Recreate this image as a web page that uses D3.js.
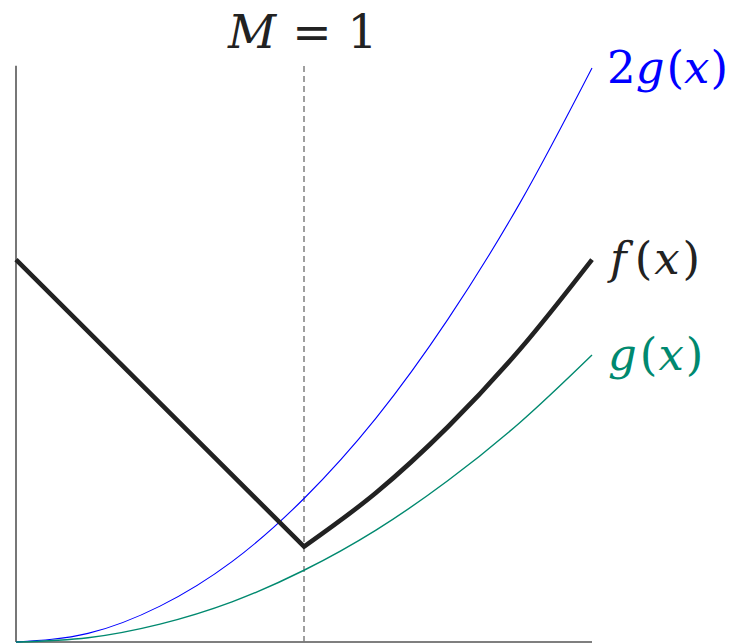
<!DOCTYPE html>
<html>
<head>
<meta charset="utf-8">
<script src="https://cdn.jsdelivr.net/npm/d3@7"></script>
<style>
  body { margin: 0; background: #fff; }
</style>
</head>
<body>
<svg id="graph" width="729" height="643"></svg>
<script>
// values, x from 0 to 2
let xs      = [0, 0.25, 0.5, 0.75, 1, 1.25, 1.5, 1.75, 2];
let gVals   = [0, 0.06, 0.25, 0.56, 1, 1.56, 2.25, 3.06, 4];
let g2Vals  = [0, 0.12, 0.5, 1.12, 2, 3.12, 4.5, 6.12, 8];
let fLeftX  = [0, 1];
let fLeftV  = [5.33, 1.33];
let fRightX = [1, 1.25, 1.5, 1.75, 2];
let fRightV = [1.33, 2.08, 3.0, 4.08, 5.33];
let M = 1;

//===== SVG SETUP =====
let svg = d3.select("#graph"),
    x = d3.scaleLinear().domain([0, 2]).range([16, 592]),
    y = d3.scaleLinear().domain([0, 8]).range([642, 68]);

let blue = "#0000ff", teal = "#00896f", dark = "#222222";
let mathFont = "'DejaVu Serif', 'Liberation Serif', serif";

// axes (plain lines, no ticks)
svg.append("line")
  .attr("x1", x(0)).attr("x2", x(0))
  .attr("y1", y(0)).attr("y2", y(8.03))
  .attr("stroke", "#555").attr("stroke-width", 1.6);
svg.append("line")
  .attr("x1", x(0)).attr("x2", x(2))
  .attr("y1", y(0)).attr("y2", y(0))
  .attr("stroke", "#555").attr("stroke-width", 1.6);

// dashed marker at M
svg.append("line")
  .attr("x1", x(M)).attr("x2", x(M))
  .attr("y1", y(0)).attr("y2", y(8.03))
  .attr("stroke", "#777").attr("stroke-width", 1.4)
  .attr("stroke-dasharray", "6,4");

//===== CURVES =====
let curve = d3.line()
  .curve(d3.curveMonotoneX)
  .x(function(d) { return x(d[0]); })
  .y(function(d) { return y(d[1]); });

let gPts = xs.map(function(v, i) { return [v, gVals[i]]; });
let g2Pts = xs.map(function(v, i) { return [v, g2Vals[i]]; });
let fRight = fRightX.map(function(v, i) { return [v, fRightV[i]]; });

svg.append("path")
  .attr("d", curve(g2Pts))
  .attr("fill", "none").attr("stroke", blue).attr("stroke-width", 1.1);

svg.append("path")
  .attr("d", curve(gPts))
  .attr("fill", "none").attr("stroke", teal).attr("stroke-width", 1.4);

// f: straight left piece joined to curved right piece
let fPath = "M" + x(fLeftX[0]) + "," + y(fLeftV[0]) + "L" + curve(fRight).slice(1);
svg.append("path")
  .attr("d", fPath)
  .attr("fill", "none").attr("stroke", dark).attr("stroke-width", 4.6)
  .attr("stroke-linejoin", "miter");

//===== LABELS =====
function mathLabel(px, py, parts, color, size) {
  let t = svg.append("text")
    .attr("x", px).attr("y", py)
    .attr("font-family", mathFont)
    .attr("font-size", size || 45)
    .attr("fill", color);
  parts.forEach(function(p) {
    t.append("tspan")
      .attr("font-family", mathFont)
      .attr("font-style", p[1] ? "italic" : "normal")
      .attr("dx", p[2] || 0)
      .text(p[0]);
  });
  return t;
}

mathLabel(x(2) + 15, y(8) + 15, [["2", 0], ["g", 1, 0], ["(", 0, 2], ["x", 1, 0], [")", 0, 1]], blue);
mathLabel(x(2) + 18, y(5.33) + 14, [["f", 1], ["(", 0, 8], ["x", 1, 2], [")", 0, 3]], dark);
mathLabel(x(2) + 16, y(4) + 15, [["g", 1], ["(", 0, 3], ["x", 1, 1], [")", 0, 2]], teal);

mathLabel(x(M) - 76, 48, [["M", 1], ["=", 0, 16], ["1", 0, 16]], dark, 47);
</script>
</body>
</html>
